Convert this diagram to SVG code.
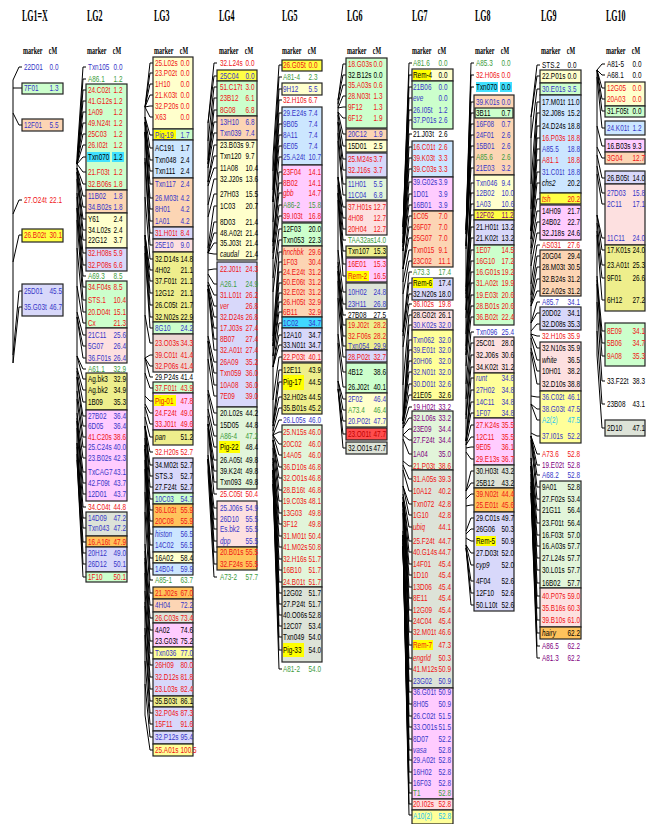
<svg xmlns="http://www.w3.org/2000/svg" width="651" height="824" viewBox="0 0 651 824">
<style>
text{font-family:"Liberation Sans",Arial,sans-serif;font-size:9px}
.ti{font-family:"Liberation Serif",serif;font-size:16px;font-weight:bold}
.h{font-family:"Liberation Serif",serif;font-size:10px;font-weight:bold}
.r{fill:#f01414}.b{fill:#3636c8}.g{fill:#3c9c3c}.k{fill:#000}.p{fill:#800080}.c{fill:#22c4f0}
.i{font-style:italic}
.bx{stroke:#222;stroke-width:1.2}
.G{fill:#ccffcc}.P{fill:#fcd5b4}.Y{fill:#ffffcc}.L{fill:#d8d8fa}.M{fill:#ffccff}.R{fill:#fde0e0}.K{fill:#eeee8c}.B{fill:#cce6ff}.A{fill:#dde3d8}.O{fill:#ffc35c}.YY{fill:#ffff44}.Y2{fill:#ffff99}.C{fill:#40d8ff}.E{fill:#e2f5da}.S{fill:#ecd8d4}.RD{fill:#ff4d4d}
.hl{fill:#ffff00}.cy{fill:#40e0ff}
#connectors path{stroke:#000;stroke-width:1;fill:none}
</style>
<rect width="651" height="824" fill="#fff"/>
<g id="connectors">
<path d="M13 80L19 67H22M13 88L19 88H22M13 113L19 125H22M13 214L19 200H22M13 262L19 235H22M13 355L19 291H22M13 363L19 307H22M13 80V363"/>
<path d="M77 157L83 67H86M77 164L83 79H86M77 164L83 90H86M77 164L83 101H86M77 164L83 112H86M77 164L83 123H86M77 164L83 134H86M77 164L83 145H86M77 164L83 157H86M77 164L83 172H86M77 168L83 184H86M77 168L83 196H86M77 168L83 207H86M77 172L83 219H86M77 172L83 230H86M77 179L83 240H86M77 193L83 253H86M77 197L83 265H86M77 208L83 276H86M77 208L83 287H86M77 220L83 300H86M77 248L83 312H86M77 286L83 323H86M77 312L83 335H86M77 317L83 346H86M77 317L83 358H86M77 356L83 369H86M77 356L83 379H86M77 368L83 390H86M77 371L83 402H86M77 377L83 416H86M77 377L83 426H86M77 391L83 437H86M77 399L83 447H86M77 413L83 458H86M77 418L83 472H86M77 421L83 483H86M77 421L83 494H86M77 428L83 507H86M77 443L83 518H86M77 443L83 528H86M77 447L83 542H86M77 454L83 553H86M77 460L83 564H86M77 460L83 577H86M77 157V460"/>
<path d="M145 107L150 63H153M145 107L150 73H153M145 107L150 84H153M145 107L150 95H153M145 107L150 106H153M145 107L150 117H153M145 117L150 135H153M145 117L150 148H153M145 122L150 160H153M145 122L150 171H153M145 122L150 184H153M145 132L150 198H153M145 132L150 209H153M145 132L150 221H153M145 158L150 233H153M145 162L150 245H153M145 197L150 259H153M145 235L150 270H153M145 235L150 281H153M145 235L150 293H153M145 238L150 305H153M145 246L150 317H153M145 253L150 328H153M145 315L150 343H153M145 358L150 355H153M145 358L150 366H153M145 358L150 377H153M145 373L150 388H153M145 396L150 401H153M145 404L150 413H153M145 407L150 424H153M145 417L150 437H153M145 426L150 452H153M145 426L150 465H153M145 426L150 476H153M145 426L150 487H153M145 438L150 499H153M145 445L150 510H153M145 445L150 521H153M145 449L150 534H153M145 449L150 545H153M145 460L150 558H153M145 469L150 569H153M145 492L150 580H153M145 512L150 593H153M145 544L150 605H153M145 551L150 618H153M145 558L150 630H153M145 562L150 641H153M145 573L150 653H153M145 591L150 665H153M145 602L150 677H153M145 606L150 689H153M145 628L150 701H153M145 635L150 713H153M145 661L150 724H153M145 684L150 737H153M145 715L150 750H153M145 107V715"/>
<path d="M208 123L214 63H217M208 123L214 76H217M208 141L214 87H217M208 160L214 98H217M208 164L214 110H217M208 164L214 122H217M208 168L214 133H217M208 182L214 145H217M208 182L214 156H217M208 186L214 168H217M208 205L214 179H217M208 217L214 194H217M208 248L214 206H217M208 253L214 222H217M208 253L214 233H217M208 253L214 243H217M208 253L214 254H217M208 270L214 269H217M208 274L214 284H217M208 282L214 295H217M208 285L214 306H217M208 285L214 317H217M208 289L214 328H217M208 289L214 339H217M208 289L214 350H217M208 336L214 362H217M208 341L214 373H217M208 341L214 385H217M208 359L214 396H217M208 390L214 413H217M208 394L214 425H217M208 409L214 436H217M208 416L214 447H217M208 424L214 460H217M208 424L214 471H217M208 424L214 482H217M208 428L214 494H217M208 455L214 508H217M208 459L214 519H217M208 459L214 529H217M208 459L214 541H217M208 459L214 552H217M208 459L214 564H217M208 472L214 577H217M208 123V472"/>
<path d="M273 157L279 65H282M273 171L279 77H282M273 190L279 89H282M273 198L279 100H282M273 202L279 113H282M273 202L279 124H282M273 202L279 135H282M273 202L279 146H282M273 222L279 157H282M273 242L279 172H282M273 242L279 183H282M273 246L279 193H282M273 253L279 205H282M273 259L279 216H282M273 278L279 229H282M273 292L279 240H282M273 336L279 252H282M273 341L279 262H282M273 346L279 272H282M273 346L279 283H282M273 346L279 293H282M273 356L279 302H282M273 356L279 312H282M273 367L279 323H282M273 367L279 335H282M273 367L279 345H282M273 400L279 357H282M273 423L279 370H282M273 426L279 382H282M273 426L279 397H282M273 431L279 408H282M273 435L279 420H282M273 435L279 432H282M273 435L279 444H282M273 435L279 455H282M273 440L279 467H282M273 440L279 478H282M273 440L279 490H282M273 448L279 501H282M273 458L279 513H282M273 458L279 524H282M273 462L279 536H282M273 464L279 547H282M273 470L279 559H282M273 470L279 570H282M273 470L279 582H282M273 470L279 593H282M273 470L279 604H282M273 476L279 615H282M273 480L279 626H282M273 484L279 637H282M273 484L279 650H282M273 484L279 669H282M273 157V484"/>
<path d="M338 100L343 64H346M338 100L343 75H346M338 104L343 85H346M338 108L343 96H346M338 108L343 107H346M338 112L343 118H346M338 112L343 134H346M338 115L343 146H346M338 122L343 159H346M338 122L343 170H346M338 133L343 184H346M338 141L343 195H346M338 177L343 207H346M338 177L343 218H346M338 177L343 229H346M338 185L343 240H346M338 193L343 251H346M338 193L343 264H346M338 200L343 276H346M338 250L343 292H346M338 262L343 304H346M338 266L343 315H346M338 271L343 325H346M338 271L343 336H346M338 281L343 346H346M338 298L343 357H346M338 334L343 372H346M338 343L343 387H346M338 381L343 399H346M338 381L343 410H346M338 389L343 421H346M338 389L343 434H346M338 389L343 448H346M338 100V389"/>
<path d="M403 227L409 63H412M403 227L409 75H412M403 227L409 87H412M403 227L409 98H412M403 234L409 110H412M403 243L409 120H412M403 243L409 134H412M403 243L409 147H412M403 247L409 158H412M403 247L409 169H412M403 251L409 182H412M403 251L409 194H412M403 251L409 205H412M403 269L409 216H412M403 269L409 227H412M403 269L409 238H412M403 282L409 250H412M403 294L409 261H412M403 332L409 272H412M403 332L409 283H412M403 336L409 294H412M403 347L409 304H412M403 385L409 315H412M403 421L409 325H412M403 421L409 340H412M403 421L409 350H412M403 421L409 361H412M403 421L409 372H412M403 424L409 384H412M403 424L409 395H412M403 428L409 407H412M403 428L409 418H412M403 435L409 429H412M403 435L409 440H412M403 439L409 454H412M403 461L409 466H412M403 465L409 479H412M403 470L409 491H412M403 486L409 504H412M403 486L409 515H412M403 494L409 527H412M403 497L409 541H412M403 497L409 552H412M403 502L409 564H412M403 502L409 575H412M403 502L409 587H412M403 502L409 598H412M403 502L409 610H412M403 502L409 621H412M403 509L409 632H412M403 513L409 645H412M403 531L409 658H412M403 535L409 669H412M403 535L409 681H412M403 535L409 692H412M403 535L409 704H412M403 539L409 716H412M403 539L409 727H412M403 543L409 739H412M403 546L409 750H412M403 546L409 760H412M403 546L409 772H412M403 546L409 783H412M403 546L409 793H412M403 546L409 804H412M403 546L409 815H412M403 227V546"/>
<path d="M466 230L471 63H474M466 230L471 75H474M466 230L471 87H474M466 230L471 102H474M466 234L471 113H474M466 234L471 124H474M466 246L471 135H474M466 246L471 146H474M466 246L471 157H474M466 249L471 168H474M466 287L471 183H474M466 291L471 193H474M466 294L471 204H474M466 298L471 215H474M466 310L471 227H474M466 310L471 238H474M466 318L471 250H474M466 334L471 261H474M466 346L471 272H474M466 350L471 283H474M466 355L471 295H474M466 355L471 306H474M466 366L471 317H474M466 384L471 332H474M466 399L471 343H474M466 415L471 355H474M466 419L471 367H474M466 441L471 378H474M466 441L471 390H474M466 441L471 402H474M466 441L471 413H474M466 445L471 425H474M466 445L471 437H474M466 448L471 447H474M466 452L471 459H474M466 491L471 471H474M466 491L471 483H474M466 499L471 494H474M466 506L471 505H474M466 531L471 518H474M466 534L471 529H474M466 538L471 541H474M466 545L471 553H474M466 545L471 565H474M466 548L471 581H474M466 548L471 593H474M466 548L471 605H474M466 230V548"/>
<path d="M531 117L537 65H540M531 117L537 76H540M531 138L537 89H540M531 184L537 102H540M531 209L537 113H540M531 231L537 126H540M531 231L537 138H540M531 231L537 149H540M531 231L537 160H540M531 231L537 172H540M531 239L537 183H540M531 239L537 199H540M531 248L537 211H540M531 254L537 222H540M531 266L537 233H540M531 284L537 245H540M531 295L537 256H540M531 302L537 267H540M531 306L537 279H540M531 306L537 291H540M531 323L537 302H540M531 323L537 313H540M531 331L537 324H540M531 334L537 336H540M531 334L537 348H540M531 338L537 360H540M531 348L537 371H540M531 352L537 384H540M531 396L537 397H540M531 404L537 409H540M531 404L537 420H540M531 433L537 436H540M531 436L537 454H540M531 436L537 465H540M531 436L537 475H540M531 436L537 487H540M531 440L537 499H540M531 458L537 510H540M531 458L537 523H540M531 462L537 535H540M531 466L537 546H540M531 466L537 558H540M531 466L537 570H540M531 466L537 583H540M531 474L537 596H540M531 482L537 608H540M531 486L537 620H540M531 493L537 633H540M531 493L537 646H540M531 493L537 658H540M531 117V493"/>
<path d="M597 70L602 64H605M597 70L602 75H605M597 70L602 88H605M597 70L602 99H605M597 70L602 111H605M597 77L602 128H605M597 126L602 146H605M597 147L602 158H605M597 155L602 178H605M597 166L602 193H605M597 174L602 204H605M597 215L602 238H605M597 215L602 250H605M597 223L602 265H605M597 231L602 278H605M597 235L602 300H605M597 276L602 331H605M597 280L602 343H605M597 284L602 356H605M597 302L602 381H605M597 331L602 404H605M597 355L602 428H605M597 70V355"/>
</g>

<g id="lg1">
<rect class="bx G" x="22" y="83" width="41" height="11"/>
<rect class="bx P" x="22" y="119" width="41" height="12"/>
<rect class="bx YY" x="22" y="229" width="41" height="13"/>
<rect class="bx L" x="22" y="284" width="41" height="32"/>
<text class="ti" transform="translate(22,21) scale(.5,1)">LG1=X</text>
<text class="h" transform="translate(23,54) scale(.6,1)">marker<tspan x="43">cM</tspan></text>
<g transform="translate(24,0) scale(.71,1)">
<text class="b" y="70">22D01<tspan x="36">0.0</tspan></text>
<text class="b" y="91">7F01<tspan x="36">1.3</tspan></text>
<text class="b" y="128">12F01<tspan x="36">5.5</tspan></text>
<text class="r" y="203">27.O24t<tspan x="36">22.1</tspan></text>
<text class="r" y="238">26.B02t<tspan x="36">30.1</tspan></text>
<text class="b" y="294">25D01<tspan x="36">45.5</tspan></text>
<text class="b" y="310">35.G03t<tspan x="36">46.7</tspan></text>
</g>
</g>

<g id="lg2">
<rect class="bx G" x="86" y="84" width="41" height="106"/>
<rect class="bx P" x="86" y="190" width="41" height="23"/>
<rect class="bx Y" x="86" y="213" width="41" height="35"/>
<rect class="bx L" x="86" y="248" width="41" height="23"/>
<rect class="bx G" x="86" y="281" width="41" height="47"/>
<rect class="bx R" x="86" y="328" width="41" height="35"/>
<rect class="bx K" x="86" y="373" width="41" height="37"/>
<rect class="bx M" x="86" y="410" width="41" height="91"/>
<rect class="bx A" x="86" y="512" width="41" height="24"/>
<rect class="bx O" x="86" y="536" width="41" height="11"/>
<rect class="bx L" x="86" y="547" width="41" height="25"/>
<rect class="bx G" x="86" y="572" width="41" height="10"/>
<rect class="cy" x="87" y="152" width="23" height="10"/>
<rect class="cy" x="112" y="152" width="12" height="10"/>
<text class="ti" transform="translate(87,21) scale(.5,1)">LG2</text>
<text class="h" transform="translate(87,54) scale(.6,1)">marker<tspan x="43">cM</tspan></text>
<g transform="translate(88,0) scale(.71,1)">
<text class="b" y="70">Txn105<tspan x="36">0.0</tspan></text>
<text class="g" y="82">A86.1<tspan x="36">1.2</tspan></text>
<text class="r" y="93">24.C02t<tspan x="36">1.2</tspan></text>
<text class="r" y="104">41.G12s<tspan x="36">1.2</tspan></text>
<text class="r" y="115">1A09<tspan x="36">1.2</tspan></text>
<text class="r" y="126">49.N24t<tspan x="36">1.2</tspan></text>
<text class="r" y="137">25C03<tspan x="36">1.2</tspan></text>
<text class="r" y="148">26.I02t<tspan x="36">1.2</tspan></text>
<text class="k" y="160">Txn070<tspan x="36">1.2</tspan></text>
<text class="r" y="175">21.F03t<tspan x="36">1.2</tspan></text>
<text class="r" y="187">32.B06s<tspan x="36">1.8</tspan></text>
<text class="b" y="199">11B02<tspan x="36">1.8</tspan></text>
<text class="b" y="210">34.B02s<tspan x="36">1.8</tspan></text>
<text class="k" y="222">Y61<tspan x="36">2.4</tspan></text>
<text class="k" y="233">34.L02s<tspan x="36">2.4</tspan></text>
<text class="k" y="243">22G12<tspan x="36">3.7</tspan></text>
<text class="r" y="256">32.H08s<tspan x="36">5.9</tspan></text>
<text class="r" y="268">32.P08s<tspan x="36">6.6</tspan></text>
<text class="g" y="279">A69.3<tspan x="36">8.5</tspan></text>
<text class="r" y="290">34.F04s<tspan x="36">8.5</tspan></text>
<text class="r" y="303">STS.1<tspan x="36">10.4</tspan></text>
<text class="r" y="315">20.D04t<tspan x="36">15.1</tspan></text>
<text class="r" y="326">Cx<tspan x="36">21.3</tspan></text>
<text class="b" y="338">21C11<tspan x="36">25.6</tspan></text>
<text class="b" y="349">5G07<tspan x="36">26.4</tspan></text>
<text class="b" y="361">36.F01s<tspan x="36">26.4</tspan></text>
<text class="g" y="372">A61.1<tspan x="36">32.9</tspan></text>
<text class="k" y="382">Ag.bk3<tspan x="36">32.9</tspan></text>
<text class="k" y="393">Ag.bk2<tspan x="36">34.9</tspan></text>
<text class="k" y="405">1B09<tspan x="36">35.3</tspan></text>
<text class="b" y="419">27B02<tspan x="36">36.4</tspan></text>
<text class="b" y="429">6D05<tspan x="36">36.4</tspan></text>
<text class="r" y="440">41.C20s<tspan x="36">38.6</tspan></text>
<text class="b" y="450">25.C24s<tspan x="36">40.0</tspan></text>
<text class="b" y="461">23.B02s<tspan x="36">42.3</tspan></text>
<text class="b" y="475">TxCAG7<tspan x="36">43.1</tspan></text>
<text class="b" y="486">42.F09t<tspan x="36">43.7</tspan></text>
<text class="b" y="497">12D01<tspan x="36">43.7</tspan></text>
<text class="r" y="510">34.C04t<tspan x="36">44.8</tspan></text>
<text class="b" y="521">14D09<tspan x="36">47.2</tspan></text>
<text class="b" y="531">Txn043<tspan x="36">47.2</tspan></text>
<text class="r" y="545">16.A16t<tspan x="36">47.9</tspan></text>
<text class="b" y="556">20H12<tspan x="36">49.0</tspan></text>
<text class="b" y="567">26D12<tspan x="36">50.1</tspan></text>
<text class="r" y="580">1F10<tspan x="36">50.1</tspan></text>
</g>
</g>

<g id="lg3">
<rect class="bx Y" x="153" y="57" width="40" height="72"/>
<rect class="bx G" x="153" y="129" width="40" height="11"/>
<rect class="bx B" x="153" y="140" width="40" height="38"/>
<rect class="bx P" x="153" y="178" width="40" height="49"/>
<rect class="bx L" x="153" y="227" width="40" height="12"/>
<rect class="bx R" x="153" y="239" width="40" height="13"/>
<rect class="bx K" x="153" y="252" width="40" height="70"/>
<rect class="bx G" x="153" y="322" width="40" height="12"/>
<rect class="bx S" x="153" y="334" width="40" height="38"/>
<rect class="bx G" x="153" y="382" width="40" height="11"/>
<rect class="bx M" x="153" y="393" width="40" height="37"/>
<rect class="bx K" x="153" y="430" width="40" height="15"/>
<rect class="bx L" x="153" y="458" width="40" height="35"/>
<rect class="bx G" x="153" y="493" width="40" height="11"/>
<rect class="bx O" x="153" y="504" width="40" height="23"/>
<rect class="bx B" x="153" y="527" width="40" height="25"/>
<rect class="bx Y" x="153" y="552" width="40" height="11"/>
<rect class="bx B" x="153" y="563" width="40" height="12"/>
<rect class="bx O" x="153" y="587" width="40" height="12"/>
<rect class="bx P" x="153" y="599" width="40" height="13"/>
<rect class="bx A" x="153" y="612" width="40" height="11"/>
<rect class="bx M" x="153" y="623" width="40" height="24"/>
<rect class="bx Y2" x="153" y="647" width="40" height="12"/>
<rect class="bx L" x="153" y="659" width="40" height="37"/>
<rect class="bx K" x="153" y="696" width="40" height="11"/>
<rect class="bx L" x="153" y="707" width="40" height="24"/>
<rect class="bx L" x="153" y="731" width="40" height="13"/>
<rect class="bx Y2" x="153" y="744" width="40" height="12"/>
<rect class="hl" x="154" y="130" width="22" height="9"/>
<rect class="hl" x="154" y="395" width="22" height="11"/>
<text class="ti" transform="translate(154,21) scale(.5,1)">LG3</text>
<text class="h" transform="translate(154,54) scale(.6,1)">marker<tspan x="43">cM</tspan></text>
<g transform="translate(155,0) scale(.71,1)">
<text class="r" y="66">25.L02s<tspan x="36">0.0</tspan></text>
<text class="r" y="76">23.P02t<tspan x="36">0.0</tspan></text>
<text class="r" y="87">1H10<tspan x="36">0.0</tspan></text>
<text class="r" y="98">21.K03t<tspan x="36">0.0</tspan></text>
<text class="r" y="109">32.P20s<tspan x="36">0.0</tspan></text>
<text class="r" y="120">X63<tspan x="36">0.0</tspan></text>
<text class="b" y="138">Pig-19<tspan x="36">1.7</tspan></text>
<text class="k" y="151">AC191<tspan x="36">1.7</tspan></text>
<text class="k" y="163">Txn048<tspan x="36">2.4</tspan></text>
<text class="k" y="174">Txn111<tspan x="36">2.4</tspan></text>
<text class="b" y="187">Txn117<tspan x="36">2.4</tspan></text>
<text class="b" y="201">26.M03t<tspan x="36">4.2</tspan></text>
<text class="b" y="212">8H01<tspan x="36">4.2</tspan></text>
<text class="b" y="224">1A01<tspan x="36">4.2</tspan></text>
<text class="r" y="236">31.H01t<tspan x="36">8.4</tspan></text>
<text class="b" y="248">25E10<tspan x="36">9.0</tspan></text>
<text class="k" y="262">32.D14s<tspan x="36">14.8</tspan></text>
<text class="k" y="273">4H02<tspan x="36">21.1</tspan></text>
<text class="k" y="284">37.F01t<tspan x="36">21.1</tspan></text>
<text class="k" y="296">12G12<tspan x="36">21.1</tspan></text>
<text class="k" y="308">26.C05t<tspan x="36">21.7</tspan></text>
<text class="k" y="320">32.N02s<tspan x="36">22.9</tspan></text>
<text class="b" y="331">8G10<tspan x="36">24.2</tspan></text>
<text class="r" y="346">23.O03s<tspan x="36">34.3</tspan></text>
<text class="r" y="358">39.C01t<tspan x="36">41.4</tspan></text>
<text class="r" y="369">32.P06s<tspan x="36">41.4</tspan></text>
<text class="k" y="380">29.P24s<tspan x="36">41.4</tspan></text>
<text class="r" y="391">37.F01t<tspan x="36">43.9</tspan></text>
<text class="r" y="404">Pig-01<tspan x="36">47.8</tspan></text>
<text class="r" y="416">24.F24t<tspan x="36">49.0</tspan></text>
<text class="r" y="427">33.J01t<tspan x="36">49.6</tspan></text>
<text class="k i" y="440">pan<tspan x="36" font-style="normal">51.2</tspan></text>
<text class="r" y="455">32.H20s<tspan x="36">52.7</tspan></text>
<text class="k" y="468">34.M02t<tspan x="36">52.7</tspan></text>
<text class="k" y="479">STS.3<tspan x="36">52.7</tspan></text>
<text class="k" y="490">27.F24t<tspan x="36">52.7</tspan></text>
<text class="b" y="502">10C03<tspan x="36">54.7</tspan></text>
<text class="r" y="513">36.L02t<tspan x="36">55.9</tspan></text>
<text class="r" y="524">20C08<tspan x="36">55.9</tspan></text>
<text class="b i" y="537">histon<tspan x="36" font-style="normal">56.5</tspan></text>
<text class="b" y="548">14C02<tspan x="36">56.5</tspan></text>
<text class="k" y="561">16A02<tspan x="36">58.4</tspan></text>
<text class="b" y="572">14B04<tspan x="36">59.9</tspan></text>
<text class="g" y="583">A85-1<tspan x="36">63.7</tspan></text>
<text class="r" y="596">21.J02s<tspan x="36">67.0</tspan></text>
<text class="b" y="608">4H04<tspan x="36">72.2</tspan></text>
<text class="r" y="621">26.C03s<tspan x="36">73.4</tspan></text>
<text class="k" y="633">4A02<tspan x="36">74.6</tspan></text>
<text class="k" y="644">23.G03t<tspan x="36">75.2</tspan></text>
<text class="b" y="656">Txn036<tspan x="36">77.0</tspan></text>
<text class="r" y="668">26H09<tspan x="36">80.0</tspan></text>
<text class="r" y="680">32.D12s<tspan x="36">81.8</tspan></text>
<text class="r" y="692">23.L03s<tspan x="36">82.4</tspan></text>
<text class="k" y="704">35.B03t<tspan x="36">86.1</tspan></text>
<text class="r" y="716">32.P04s<tspan x="36">87.3</tspan></text>
<text class="r" y="727">15F11<tspan x="36">91.6</tspan></text>
<text class="b" y="740">32.P12s<tspan x="36">95.4</tspan></text>
<text class="r" y="753">25.A01s<tspan x="36">100.5</tspan></text>
</g>
</g>

<g id="lg4">
<rect class="bx YY" x="217" y="70" width="40" height="11"/>
<rect class="bx G" x="217" y="81" width="40" height="35"/>
<rect class="bx P" x="217" y="116" width="40" height="24"/>
<rect class="bx Y" x="217" y="140" width="40" height="120"/>
<rect class="bx L" x="217" y="262" width="40" height="145"/>
<rect class="bx E" x="217" y="407" width="40" height="82"/>
<rect class="bx R" x="217" y="501" width="40" height="46"/>
<rect class="bx O" x="217" y="547" width="40" height="23"/>
<rect class="hl" x="219" y="441" width="21" height="12"/>
<text class="ti" transform="translate(219,21) scale(.5,1)">LG4</text>
<text class="h" transform="translate(219,54) scale(.6,1)">marker<tspan x="43">cM</tspan></text>
<g transform="translate(220,0) scale(.71,1)">
<text class="r" y="66">32.L24s<tspan x="36">0.0</tspan></text>
<text class="b" y="79">25C04<tspan x="36">0.0</tspan></text>
<text class="r" y="90">51.C17t<tspan x="36">3.0</tspan></text>
<text class="r" y="101">23B12<tspan x="36">6.1</tspan></text>
<text class="r" y="113">8G08<tspan x="36">6.8</tspan></text>
<text class="b" y="125">13H10<tspan x="36">6.8</tspan></text>
<text class="b" y="136">Txn039<tspan x="36">7.4</tspan></text>
<text class="k" y="148">23.B03s<tspan x="36">9.7</tspan></text>
<text class="k" y="159">Txn120<tspan x="36">9.7</tspan></text>
<text class="k" y="171">11A08<tspan x="36">10.4</tspan></text>
<text class="k" y="182">32.J20s<tspan x="36">13.6</tspan></text>
<text class="k" y="197">27H03<tspan x="36">15.5</tspan></text>
<text class="k" y="209">1C03<tspan x="36">20.7</tspan></text>
<text class="k" y="225">8D03<tspan x="36">21.4</tspan></text>
<text class="k" y="236">48.A02t<tspan x="36">21.4</tspan></text>
<text class="k" y="246">35.J03t<tspan x="36">21.4</tspan></text>
<text class="k i" y="257">caudal<tspan x="36" font-style="normal">21.4</tspan></text>
<text class="r" y="272">22.J01t<tspan x="36">24.3</tspan></text>
<text class="g" y="287">A26.1<tspan x="36">24.9</tspan></text>
<text class="r" y="298">31.L01t<tspan x="36">26.2</tspan></text>
<text class="r i" y="309">ver<tspan x="36" font-style="normal">26.8</tspan></text>
<text class="r" y="320">32.D24s<tspan x="36">26.8</tspan></text>
<text class="r" y="331">17.J03s<tspan x="36">27.4</tspan></text>
<text class="r" y="342">8B07<tspan x="36">27.4</tspan></text>
<text class="r" y="353">32.A01t<tspan x="36">27.4</tspan></text>
<text class="r" y="365">26A09<tspan x="36">35.2</tspan></text>
<text class="r" y="376">Txn059<tspan x="36">36.0</tspan></text>
<text class="r" y="388">10A08<tspan x="36">36.0</tspan></text>
<text class="r" y="399">7E09<tspan x="36">39.0</tspan></text>
<text class="k" y="416">20.L02s<tspan x="36">44.2</tspan></text>
<text class="k" y="428">15D05<tspan x="36">44.8</tspan></text>
<text class="g" y="439">A86-4<tspan x="36">47.2</tspan></text>
<text class="k" y="450">Pig-22<tspan x="36">48.4</tspan></text>
<text class="k" y="463">26.A05t<tspan x="36">49.8</tspan></text>
<text class="k" y="474">39.K24t<tspan x="36">49.8</tspan></text>
<text class="k" y="485">Txn093<tspan x="36">49.8</tspan></text>
<text class="r" y="497">25.C05t<tspan x="36">50.4</tspan></text>
<text class="b" y="511">25.J06s<tspan x="36">54.9</tspan></text>
<text class="b" y="522">26D10<tspan x="36">55.5</tspan></text>
<text class="b" y="532">Es.bk2<tspan x="36">55.5</tspan></text>
<text class="b i" y="544">dpp<tspan x="36" font-style="normal">55.5</tspan></text>
<text class="r" y="555">20.B01s<tspan x="36">55.5</tspan></text>
<text class="r" y="567">32.F24s<tspan x="36">55.5</tspan></text>
<text class="g" y="580">A73-2<tspan x="36">57.7</tspan></text>
</g>
</g>

<g id="lg5">
<rect class="bx YY" x="282" y="60" width="40" height="11"/>
<rect class="bx Y" x="282" y="83" width="40" height="12"/>
<rect class="bx B" x="282" y="107" width="40" height="58"/>
<rect class="bx M" x="282" y="165" width="40" height="57"/>
<rect class="bx G" x="282" y="223" width="40" height="23"/>
<rect class="bx P" x="282" y="246" width="40" height="71"/>
<rect class="bx C" x="282" y="317" width="40" height="11"/>
<rect class="bx L" x="282" y="328" width="40" height="23"/>
<rect class="bx R" x="282" y="351" width="40" height="11"/>
<rect class="bx K" x="282" y="363" width="40" height="51"/>
<rect class="bx E" x="282" y="425" width="40" height="162"/>
<rect class="bx A" x="282" y="587" width="40" height="75"/>
<rect class="hl" x="283" y="375" width="21" height="15"/>
<rect class="hl" x="283" y="643" width="21" height="14"/>
<text class="ti" transform="translate(282,21) scale(.5,1)">LG5</text>
<text class="h" transform="translate(282,54) scale(.6,1)">marker<tspan x="43">cM</tspan></text>
<g transform="translate(283,0) scale(.71,1)">
<text class="r" y="68">26.G05t<tspan x="36">0.0</tspan></text>
<text class="g" y="80">A81-4<tspan x="36">2.3</tspan></text>
<text class="b" y="92">9H12<tspan x="36">5.5</tspan></text>
<text class="r" y="103">32.H10s<tspan x="36">6.7</tspan></text>
<text class="b" y="116">29.E24s<tspan x="36">7.4</tspan></text>
<text class="b" y="127">9B05<tspan x="36">7.4</tspan></text>
<text class="b" y="138">8A11<tspan x="36">7.4</tspan></text>
<text class="b" y="149">6E05<tspan x="36">7.4</tspan></text>
<text class="b" y="160">25.A24t<tspan x="36">10.7</tspan></text>
<text class="r" y="175">23F04<tspan x="36">14.1</tspan></text>
<text class="r" y="186">8B02<tspan x="36">14.1</tspan></text>
<text class="r i" y="196">gbb<tspan x="36" font-style="normal">14.7</tspan></text>
<text class="g" y="208">A86-2<tspan x="36">15.8</tspan></text>
<text class="r" y="219">39.I03t<tspan x="36">16.8</tspan></text>
<text class="k" y="232">12F03<tspan x="36">20.0</tspan></text>
<text class="k" y="243">Txn053<tspan x="36">22.3</tspan></text>
<text class="r i" y="255">hnchbk<tspan x="36" font-style="normal">29.6</tspan></text>
<text class="r" y="265">1F03<tspan x="36">30.4</tspan></text>
<text class="r" y="275">24.E24t<tspan x="36">31.2</tspan></text>
<text class="r" y="285">50.E06t<tspan x="36">31.2</tspan></text>
<text class="r" y="295">32.E02t<tspan x="36">31.2</tspan></text>
<text class="r" y="305">26.H05t<tspan x="36">32.9</tspan></text>
<text class="r" y="315">6B11<tspan x="36">32.9</tspan></text>
<text class="b" y="326">1C02<tspan x="36">34.7</tspan></text>
<text class="k" y="338">12A10<tspan x="36">34.7</tspan></text>
<text class="k" y="348">33.N01t<tspan x="36">34.7</tspan></text>
<text class="r" y="360">22.P03t<tspan x="36">40.1</tspan></text>
<text class="k" y="373">12E11<tspan x="36">43.9</tspan></text>
<text class="k" y="385">Pig-17<tspan x="36">44.5</tspan></text>
<text class="k" y="400">32.H02s<tspan x="36">44.5</tspan></text>
<text class="k" y="411">35.B01s<tspan x="36">45.2</tspan></text>
<text class="b" y="423">26.L05s<tspan x="36">46.0</tspan></text>
<text class="r" y="435">25.N15s<tspan x="36">46.0</tspan></text>
<text class="r" y="447">20C02<tspan x="36">46.0</tspan></text>
<text class="r" y="458">14A05<tspan x="36">46.0</tspan></text>
<text class="r" y="470">36.D10s<tspan x="36">46.8</tspan></text>
<text class="r" y="481">32.O01s<tspan x="36">46.8</tspan></text>
<text class="r" y="493">28.B16t<tspan x="36">46.8</tspan></text>
<text class="r" y="504">19.C03s<tspan x="36">48.1</tspan></text>
<text class="r" y="516">13G03<tspan x="36">49.8</tspan></text>
<text class="r" y="527">3F12<tspan x="36">49.8</tspan></text>
<text class="r" y="539">31.M01t<tspan x="36">50.4</tspan></text>
<text class="r" y="550">41.M02s<tspan x="36">50.8</tspan></text>
<text class="r" y="562">32.H16s<tspan x="36">51.7</tspan></text>
<text class="r" y="573">16B10<tspan x="36">51.7</tspan></text>
<text class="r" y="585">24.B01t<tspan x="36">51.7</tspan></text>
<text class="k" y="596">12G02<tspan x="36">51.7</tspan></text>
<text class="k" y="607">27.P24t<tspan x="36">51.7</tspan></text>
<text class="k" y="618">40.O06s<tspan x="36">52.8</tspan></text>
<text class="k" y="629">12C07<tspan x="36">53.4</tspan></text>
<text class="k" y="640">Txn049<tspan x="36">54.0</tspan></text>
<text class="k" y="653">Pig-33<tspan x="36">54.0</tspan></text>
<text class="g" y="672">A81-2<tspan x="36">54.0</tspan></text>
</g>
</g>

<g id="lg6">
<rect class="bx G" x="346" y="58" width="41" height="70"/>
<rect class="bx P" x="346" y="129" width="41" height="11"/>
<rect class="bx Y" x="346" y="140" width="41" height="12"/>
<rect class="bx L" x="346" y="153" width="41" height="24"/>
<rect class="bx E" x="346" y="178" width="41" height="22"/>
<rect class="bx R" x="346" y="201" width="41" height="34"/>
<rect class="bx K" x="346" y="246" width="41" height="11"/>
<rect class="bx M" x="346" y="258" width="41" height="24"/>
<rect class="bx A" x="346" y="283" width="41" height="26"/>
<rect class="bx K" x="346" y="319" width="41" height="31"/>
<rect class="bx L" x="346" y="350" width="41" height="12"/>
<rect class="bx G" x="346" y="363" width="41" height="30"/>
<rect class="bx Y" x="346" y="393" width="41" height="34"/>
<rect class="bx RD" x="346" y="428" width="41" height="12"/>
<rect class="bx A" x="346" y="442" width="41" height="12"/>
<rect class="hl" x="347" y="271" width="22" height="10"/>
<text class="ti" transform="translate(347,21) scale(.5,1)">LG6</text>
<text class="h" transform="translate(347,54) scale(.6,1)">marker<tspan x="43">cM</tspan></text>
<g transform="translate(348,0) scale(.71,1)">
<text class="r" y="67">18.G03s<tspan x="36">0.0</tspan></text>
<text class="k" y="78">32.B12s<tspan x="36">0.0</tspan></text>
<text class="r" y="88">35.A03s<tspan x="36">0.6</tspan></text>
<text class="r" y="99">28.N03t<tspan x="36">1.3</tspan></text>
<text class="r" y="110">9F12<tspan x="36">1.3</tspan></text>
<text class="r" y="121">6F12<tspan x="36">1.9</tspan></text>
<text class="b" y="137">20C12<tspan x="36">1.9</tspan></text>
<text class="k" y="149">15D01<tspan x="36">2.5</tspan></text>
<text class="r" y="162">25.M24s<tspan x="36">3.7</tspan></text>
<text class="r" y="173">32.J16s<tspan x="36">3.7</tspan></text>
<text class="b" y="187">11H01<tspan x="36">5.5</tspan></text>
<text class="b" y="198">11C04<tspan x="36">6.8</tspan></text>
<text class="r" y="210">37.H01s<tspan x="36">12.7</tspan></text>
<text class="r" y="221">4H08<tspan x="36">12.7</tspan></text>
<text class="r" y="232">20H04<tspan x="36">12.7</tspan></text>
<text class="g" y="243">TAA32as<tspan x="36">14.0</tspan></text>
<text class="k" y="254">Txn107<tspan x="36">15.3</tspan></text>
<text class="r" y="267">16E01<tspan x="36">15.3</tspan></text>
<text class="r" y="279">Rem-2<tspan x="36">16.5</tspan></text>
<text class="b" y="295">10H02<tspan x="36">24.8</tspan></text>
<text class="b" y="307">23H11<tspan x="36">26.8</tspan></text>
<text class="k" y="318">27B08<tspan x="36">27.5</tspan></text>
<text class="r" y="328">19.J02t<tspan x="36">28.2</tspan></text>
<text class="r" y="339">32.F06s<tspan x="36">28.2</tspan></text>
<text class="b" y="349">Txn054<tspan x="36">29.9</tspan></text>
<text class="r" y="360">28.P02t<tspan x="36">32.7</tspan></text>
<text class="k" y="375">4B12<tspan x="36">38.6</tspan></text>
<text class="k" y="390">26.J02t<tspan x="36">40.1</tspan></text>
<text class="b" y="402">2F02<tspan x="36">46.4</tspan></text>
<text class="g" y="413">A73.4<tspan x="36">46.4</tspan></text>
<text class="b" y="424">20.P02t<tspan x="36">47.7</tspan></text>
<text y="437" fill="#c00000">23.O01t<tspan x="36">47.7</tspan></text>
<text class="k" y="451">32.O01s<tspan x="36">47.7</tspan></text>
</g>
</g>

<g id="lg7">
<rect class="bx Y" x="412" y="69" width="41" height="12"/>
<rect class="bx G" x="412" y="81" width="41" height="48"/>
<rect class="bx B" x="412" y="141" width="41" height="36"/>
<rect class="bx M" x="412" y="177" width="41" height="34"/>
<rect class="bx P" x="412" y="211" width="41" height="56"/>
<rect class="bx L" x="412" y="278" width="41" height="22"/>
<rect class="bx R" x="412" y="310" width="41" height="20"/>
<rect class="bx Y2" x="412" y="330" width="41" height="70"/>
<rect class="bx E" x="412" y="411" width="41" height="59"/>
<rect class="bx A" x="412" y="470" width="41" height="218"/>
<rect class="bx M" x="412" y="688" width="41" height="111"/>
<rect class="bx R" x="412" y="799" width="41" height="11"/>
<rect class="bx Y2" x="412" y="810" width="41" height="14"/>
<rect class="hl" x="413" y="70" width="18" height="10"/>
<rect class="hl" x="413" y="278" width="20" height="10"/>
<rect class="hl" x="413" y="640" width="20" height="10"/>
<text class="ti" transform="translate(412,21) scale(.5,1)">LG7</text>
<text class="h" transform="translate(412,54) scale(.6,1)">marker<tspan x="43">cM</tspan></text>
<g transform="translate(413,0) scale(.71,1)">
<text class="g" y="66">A81.6<tspan x="36">0.0</tspan></text>
<text class="k" y="78">Rem-4<tspan x="36">0.0</tspan></text>
<text class="b" y="90">21B06<tspan x="36">0.0</tspan></text>
<text class="b i" y="101">eve<tspan x="36" font-style="normal">0.0</tspan></text>
<text class="b" y="113">26.I05t<tspan x="36">1.2</tspan></text>
<text class="b" y="123">37.P01s<tspan x="36">2.6</tspan></text>
<text class="k" y="137">21.J03t<tspan x="36">2.6</tspan></text>
<text class="r" y="150">16.C01t<tspan x="36">2.6</tspan></text>
<text class="r" y="161">39.K03t<tspan x="36">3.3</tspan></text>
<text class="r" y="172">39.C03s<tspan x="36">3.3</tspan></text>
<text class="b" y="185">39.G02s<tspan x="36">3.9</tspan></text>
<text class="b" y="197">1D01<tspan x="36">3.9</tspan></text>
<text class="b" y="208">16B01<tspan x="36">3.9</tspan></text>
<text class="r" y="219">1C05<tspan x="36">7.0</tspan></text>
<text class="r" y="230">26F07<tspan x="36">7.0</tspan></text>
<text class="r" y="241">25G07<tspan x="36">7.0</tspan></text>
<text class="r" y="253">Txn015<tspan x="36">9.1</tspan></text>
<text class="r" y="264">23C02<tspan x="36">11.1</tspan></text>
<text class="g" y="275">A73.3<tspan x="36">17.4</tspan></text>
<text class="k" y="286">Rem-6<tspan x="36">17.4</tspan></text>
<text class="k" y="297">32.N20s<tspan x="36">18.0</tspan></text>
<text class="r" y="307">36.I02s<tspan x="36">19.8</tspan></text>
<text class="k" y="318">28.G02t<tspan x="36">26.1</tspan></text>
<text class="b" y="328">30.K02s<tspan x="36">32.0</tspan></text>
<text class="b" y="343">Txn062<tspan x="36">32.0</tspan></text>
<text class="b" y="353">39.E01t<tspan x="36">32.0</tspan></text>
<text class="b" y="364">20H06<tspan x="36">32.0</tspan></text>
<text class="b" y="375">32.N01t<tspan x="36">32.0</tspan></text>
<text class="b" y="387">30.D01t<tspan x="36">32.6</tspan></text>
<text class="k" y="398">21E05<tspan x="36">32.6</tspan></text>
<text class="p" y="410">19.H02t<tspan x="36">33.2</tspan></text>
<text class="p" y="421">32.L06s<tspan x="36">33.2</tspan></text>
<text class="p" y="432">23E09<tspan x="36">34.4</tspan></text>
<text class="p" y="443">27.F24t<tspan x="36">34.4</tspan></text>
<text class="p" y="457">1A04<tspan x="36">35.0</tspan></text>
<text class="r" y="469">21.P03t<tspan x="36">38.6</tspan></text>
<text class="r" y="482">31.A05s<tspan x="36">39.3</tspan></text>
<text class="r" y="494">10A12<tspan x="36">40.2</tspan></text>
<text class="r" y="507">Txn072<tspan x="36">42.8</tspan></text>
<text class="r" y="518">1G10<tspan x="36">42.8</tspan></text>
<text class="r i" y="530">ubiq<tspan x="36" font-style="normal">44.1</tspan></text>
<text class="r" y="544">25.F24t<tspan x="36">44.7</tspan></text>
<text class="r" y="555">40.G14s<tspan x="36">44.7</tspan></text>
<text class="r" y="567">14F01<tspan x="36">45.4</tspan></text>
<text class="r" y="578">1D10<tspan x="36">45.4</tspan></text>
<text class="r" y="590">13D06<tspan x="36">45.4</tspan></text>
<text class="r" y="601">8E11<tspan x="36">45.4</tspan></text>
<text class="r" y="613">12G09<tspan x="36">45.4</tspan></text>
<text class="r" y="624">24C04<tspan x="36">45.4</tspan></text>
<text class="r" y="635">32.M01t<tspan x="36">46.6</tspan></text>
<text class="r" y="648">Rem-7<tspan x="36">47.3</tspan></text>
<text class="r i" y="661">engrld<tspan x="36" font-style="normal">50.3</tspan></text>
<text class="r" y="672">41.M12s<tspan x="36">50.9</tspan></text>
<text class="b" y="684">23G02<tspan x="36">50.9</tspan></text>
<text class="b" y="695">36.G01t<tspan x="36">50.9</tspan></text>
<text class="b" y="707">8H05<tspan x="36">50.9</tspan></text>
<text class="b" y="719">26.C02t<tspan x="36">51.5</tspan></text>
<text class="b" y="730">33.O01s<tspan x="36">51.5</tspan></text>
<text class="b" y="742">8D07<tspan x="36">52.2</tspan></text>
<text class="b i" y="753">vasa<tspan x="36" font-style="normal">52.8</tspan></text>
<text class="b" y="763">29.A02t<tspan x="36">52.8</tspan></text>
<text class="b" y="775">16H02<tspan x="36">52.8</tspan></text>
<text class="b" y="786">16F03<tspan x="36">52.8</tspan></text>
<text class="g" y="796">T1<tspan x="36">52.8</tspan></text>
<text class="r" y="807">20.I02s<tspan x="36">52.8</tspan></text>
<text class="c" y="819">A10(2)<tspan x="36">52.8</tspan></text>
</g>
</g>

<g id="lg8">
<rect class="bx P" x="474" y="95" width="40" height="80"/>
<rect class="bx G" x="475" y="108" width="38" height="10"/>
<rect class="bx Y" x="474" y="175" width="40" height="35"/>
<rect class="bx YY" x="474" y="210" width="40" height="10"/>
<rect class="bx L" x="474" y="220" width="40" height="25"/>
<rect class="bx G" x="474" y="245" width="40" height="80"/>
<rect class="bx R" x="474" y="337" width="40" height="36"/>
<rect class="bx Y2" x="474" y="373" width="40" height="45"/>
<rect class="bx M" x="474" y="418" width="40" height="47"/>
<rect class="bx A" x="474" y="465" width="40" height="23"/>
<rect class="bx O" x="474" y="488" width="40" height="24"/>
<rect class="bx L" x="474" y="512" width="40" height="99"/>
<rect class="cy" x="476" y="82" width="22" height="10"/>
<rect class="cy" x="500" y="82" width="12" height="10"/>
<rect class="hl" x="476" y="536" width="20" height="10"/>
<text class="ti" transform="translate(475,21) scale(.5,1)">LG8</text>
<text class="h" transform="translate(475,54) scale(.6,1)">marker<tspan x="43">cM</tspan></text>
<g transform="translate(476,0) scale(.71,1)">
<text class="g" y="66">A85.3<tspan x="36">0.0</tspan></text>
<text class="r" y="78">32.H06s<tspan x="36">0.0</tspan></text>
<text class="k" y="90">Txn070<tspan x="36">0.0</tspan></text>
<text class="b" y="105">39.K01s<tspan x="36">0.0</tspan></text>
<text class="k" y="116">3B11<tspan x="36">0.7</tspan></text>
<text class="b" y="127">16F08<tspan x="36">0.7</tspan></text>
<text class="b" y="138">24F01<tspan x="36">2.6</tspan></text>
<text class="b" y="149">15B01<tspan x="36">2.6</tspan></text>
<text class="g" y="160">A85.6<tspan x="36">2.6</tspan></text>
<text class="b" y="171">21E03<tspan x="36">3.2</tspan></text>
<text class="b" y="186">Txn046<tspan x="36">9.4</tspan></text>
<text class="b" y="196">12B02<tspan x="36">10.0</tspan></text>
<text class="b" y="207">1A03<tspan x="36">10.6</tspan></text>
<text class="p" y="218">12F02<tspan x="36">11.2</tspan></text>
<text class="k" y="230">21.H01t<tspan x="36">13.2</tspan></text>
<text class="k" y="241">21.K02t<tspan x="36">13.2</tspan></text>
<text class="r" y="253">1E07<tspan x="36">14.5</tspan></text>
<text class="r" y="264">16G10<tspan x="36">17.2</tspan></text>
<text class="r" y="275">16.G01s<tspan x="36">19.2</tspan></text>
<text class="r" y="286">31.A02t<tspan x="36">19.9</tspan></text>
<text class="r" y="298">19.E03t<tspan x="36">20.6</tspan></text>
<text class="r" y="309">28.B01s<tspan x="36">20.6</tspan></text>
<text class="r" y="320">36.B02t<tspan x="36">22.4</tspan></text>
<text class="b" y="335">Txn096<tspan x="36">25.4</tspan></text>
<text class="k" y="346">25C01<tspan x="36">28.0</tspan></text>
<text class="k" y="358">32.J06s<tspan x="36">30.6</tspan></text>
<text class="k" y="370">34.K02t<tspan x="36">31.2</tspan></text>
<text class="b i" y="381">runt<tspan x="36" font-style="normal">34.8</tspan></text>
<text class="b" y="393">27H02<tspan x="36">34.8</tspan></text>
<text class="b" y="405">14C11<tspan x="36">34.8</tspan></text>
<text class="b" y="416">1F07<tspan x="36">34.8</tspan></text>
<text class="r" y="428">27.K24s<tspan x="36">35.5</tspan></text>
<text class="r" y="440">12C11<tspan x="36">35.5</tspan></text>
<text class="r" y="450">9E05<tspan x="36">36.1</tspan></text>
<text class="r" y="462">29.E13s<tspan x="36">36.7</tspan></text>
<text class="k" y="474">30.H03t<tspan x="36">43.2</tspan></text>
<text class="k" y="486">25B12<tspan x="36">43.2</tspan></text>
<text class="r" y="497">39.N02t<tspan x="36">44.4</tspan></text>
<text class="r" y="508">25.E01t<tspan x="36">45.6</tspan></text>
<text class="k" y="521">29.C01s<tspan x="36">49.7</tspan></text>
<text class="k" y="532">26G06<tspan x="36">50.3</tspan></text>
<text class="k" y="544">Rem-5<tspan x="36">50.9</tspan></text>
<text class="k" y="556">27.D03t<tspan x="36">52.0</tspan></text>
<text class="k i" y="568">cyp9<tspan x="36" font-style="normal">52.0</tspan></text>
<text class="k" y="584">4F04<tspan x="36">52.6</tspan></text>
<text class="k" y="596">12F10<tspan x="36">52.6</tspan></text>
<text class="k" y="608">50.L10t<tspan x="36">52.6</tspan></text>
</g>
</g>

<g id="lg9">
<rect class="bx Y" x="540" y="70" width="41" height="13"/>
<rect class="bx G" x="540" y="83" width="41" height="12"/>
<rect class="bx B" x="540" y="95" width="41" height="98"/>
<rect class="bx YY" x="540" y="193" width="41" height="11"/>
<rect class="bx M" x="540" y="205" width="41" height="35"/>
<rect class="bx P" x="540" y="250" width="41" height="46"/>
<rect class="bx L" x="540" y="307" width="41" height="23"/>
<rect class="bx R" x="540" y="342" width="41" height="49"/>
<rect class="bx Y2" x="540" y="391" width="41" height="52"/>
<rect class="bx E" x="540" y="481" width="41" height="107"/>
<rect class="bx R" x="540" y="588" width="41" height="39"/>
<rect class="bx O" x="540" y="627" width="41" height="12"/>
<text class="ti" transform="translate(541,21) scale(.5,1)">LG9</text>
<text class="h" transform="translate(541,54) scale(.6,1)">marker<tspan x="43">cM</tspan></text>
<g transform="translate(542,0) scale(.71,1)">
<text class="k" y="68">STS.2<tspan x="36">0.0</tspan></text>
<text class="k" y="79">22.P01s<tspan x="36">0.0</tspan></text>
<text class="b" y="92">30.E01s<tspan x="36">3.5</tspan></text>
<text class="k" y="105">17.M01t<tspan x="36">11.0</tspan></text>
<text class="k" y="116">32.J08s<tspan x="36">15.2</tspan></text>
<text class="k" y="129">24.D24s<tspan x="36">18.8</tspan></text>
<text class="r" y="141">16.P03s<tspan x="36">18.8</tspan></text>
<text class="b" y="152">A85.5<tspan x="36">18.8</tspan></text>
<text class="r" y="163">A81.1<tspan x="36">18.8</tspan></text>
<text class="b" y="175">31.C01t<tspan x="36">18.8</tspan></text>
<text class="k i" y="186">chs2<tspan x="36" font-style="normal">20.2</tspan></text>
<text class="r i" y="202">tsh<tspan x="36" font-style="normal">20.2</tspan></text>
<text class="k" y="214">14H09<tspan x="36">21.7</tspan></text>
<text class="k" y="225">24B02<tspan x="36">22.7</tspan></text>
<text class="k" y="236">32.J18s<tspan x="36">24.6</tspan></text>
<text class="r" y="248">AS031<tspan x="36">27.6</tspan></text>
<text class="k" y="259">20G04<tspan x="36">29.4</tspan></text>
<text class="k" y="270">28.M03t<tspan x="36">30.5</tspan></text>
<text class="k" y="282">32.B24s<tspan x="36">31.2</tspan></text>
<text class="k" y="294">22.A02s<tspan x="36">31.2</tspan></text>
<text class="b" y="305">A85.7<tspan x="36">34.1</tspan></text>
<text class="k" y="316">20D02<tspan x="36">34.1</tspan></text>
<text class="k" y="327">32.D08s<tspan x="36">35.3</tspan></text>
<text class="r" y="339">32.H10s<tspan x="36">35.9</tspan></text>
<text class="k" y="351">32.N10s<tspan x="36">35.9</tspan></text>
<text class="k i" y="363">white<tspan x="36" font-style="normal">36.5</tspan></text>
<text class="k" y="374">10H01<tspan x="36">38.2</tspan></text>
<text class="k" y="387">32.D10s<tspan x="36">38.8</tspan></text>
<text class="b" y="400">36.C02t<tspan x="36">46.1</tspan></text>
<text class="b" y="412">38.G03t<tspan x="36">47.5</tspan></text>
<text class="c" y="423">A2(2)<tspan x="36">47.5</tspan></text>
<text class="b" y="439">37.I01s<tspan x="36">52.2</tspan></text>
<text class="r" y="457">A73.6<tspan x="36">52.8</tspan></text>
<text class="p" y="468">19.E02t<tspan x="36">52.8</tspan></text>
<text class="b" y="478">A68.2<tspan x="36">52.8</tspan></text>
<text class="k" y="490">9A01<tspan x="36">52.8</tspan></text>
<text class="k" y="502">27.F02s<tspan x="36">53.4</tspan></text>
<text class="k" y="513">21G11<tspan x="36">56.4</tspan></text>
<text class="k" y="526">23.F01t<tspan x="36">56.4</tspan></text>
<text class="k" y="538">16.F03t<tspan x="36">57.0</tspan></text>
<text class="k" y="549">16.A03s<tspan x="36">57.7</tspan></text>
<text class="k" y="561">27.L24s<tspan x="36">57.7</tspan></text>
<text class="k" y="573">30.L01s<tspan x="36">57.7</tspan></text>
<text class="k" y="586">16B02<tspan x="36">57.7</tspan></text>
<text class="r" y="599">40.P07s<tspan x="36">59.0</tspan></text>
<text class="r" y="611">35.B16s<tspan x="36">60.3</tspan></text>
<text class="r" y="623">39.B10s<tspan x="36">61.0</tspan></text>
<text class="k i" y="636">hairy<tspan x="36" font-style="normal">62.2</tspan></text>
<text class="p" y="649">A86.5<tspan x="36">62.2</tspan></text>
<text class="p" y="661">A81.3<tspan x="36">62.2</tspan></text>
</g>
</g>

<g id="lg10">
<rect class="bx Y" x="605" y="82" width="40" height="24"/>
<rect class="bx G" x="605" y="106" width="40" height="11"/>
<rect class="bx B" x="605" y="121" width="40" height="14"/>
<rect class="bx M" x="605" y="139" width="40" height="13"/>
<rect class="bx P" x="605" y="152" width="40" height="12"/>
<rect class="bx L" x="605" y="171" width="40" height="13"/>
<rect class="bx R" x="605" y="184" width="40" height="61"/>
<rect class="bx K" x="605" y="245" width="40" height="66"/>
<rect class="bx G" x="605" y="323" width="40" height="43"/>
<rect class="bx A" x="605" y="420" width="40" height="16"/>
<text class="ti" transform="translate(606,21) scale(.5,1)">LG10</text>
<text class="h" transform="translate(606,54) scale(.6,1)">marker<tspan x="43">cM</tspan></text>
<g transform="translate(607,0) scale(.71,1)">
<text class="k" y="67">A81-5<tspan x="36">0.0</tspan></text>
<text class="k" y="78">A68.1<tspan x="36">0.0</tspan></text>
<text class="r" y="91">12G05<tspan x="36">0.0</tspan></text>
<text class="r" y="102">20A03<tspan x="36">0.0</tspan></text>
<text class="k" y="114">31.F05t<tspan x="36">0.0</tspan></text>
<text class="b" y="131">24.K01t<tspan x="36">1.2</tspan></text>
<text class="k" y="149">16.B03s<tspan x="36">9.3</tspan></text>
<text class="r" y="161">3G04<tspan x="36">12.7</tspan></text>
<text class="k" y="181">26.B05t<tspan x="36">14.0</tspan></text>
<text class="b" y="196">27D03<tspan x="36">15.8</tspan></text>
<text class="b" y="207">2C11<tspan x="36">17.1</tspan></text>
<text class="b" y="241">11C11<tspan x="36">24.0</tspan></text>
<text class="k" y="253">17.K01s<tspan x="36">24.0</tspan></text>
<text class="k" y="268">23.A01t<tspan x="36">25.3</tspan></text>
<text class="k" y="281">9F01<tspan x="36">26.6</tspan></text>
<text class="k" y="303">6H12<tspan x="36">27.2</tspan></text>
<text class="r" y="334">8E09<tspan x="36">34.1</tspan></text>
<text class="r" y="346">5B06<tspan x="36">34.7</tspan></text>
<text class="r" y="359">9A08<tspan x="36">35.3</tspan></text>
<text class="k" y="384">33.F22t<tspan x="36">38.3</tspan></text>
<text class="k" y="407">23B08<tspan x="36">43.1</tspan></text>
<text class="k" y="431">2D10<tspan x="36">47.1</tspan></text>
</g>
</g>
</svg>
